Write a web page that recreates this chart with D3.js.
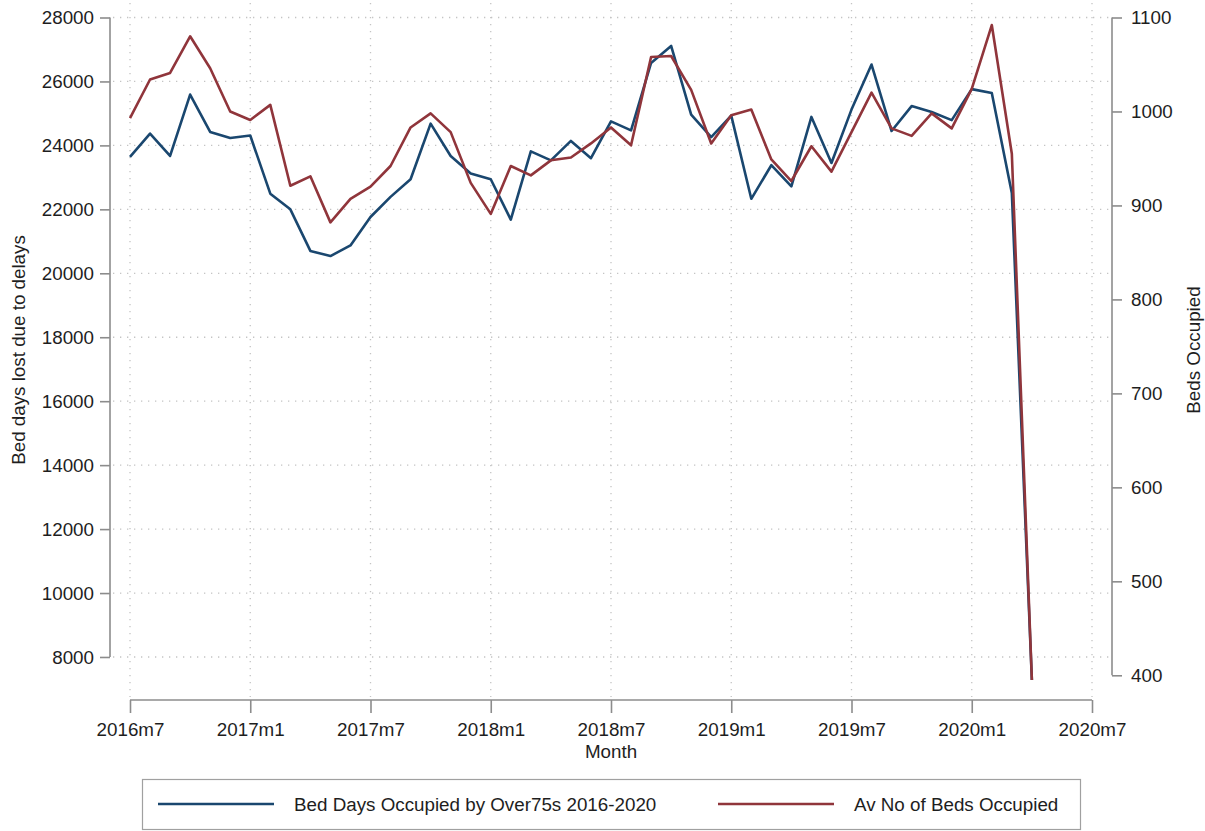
<!DOCTYPE html>
<html>
<head>
<meta charset="utf-8">
<script src="https://cdn.jsdelivr.net/npm/d3@7"></script>
<style>
  body { margin: 0; background: #fff; }
  text { font-family: "Liberation Sans", Arial, sans-serif; fill: #1e1e1e; }
</style>
</head>
<body>
<svg id="chart" width="1205" height="831"></svg>
<script>
const months = ["2016m7","2016m8","2016m9","2016m10","2016m11","2016m12",
  "2017m1","2017m2","2017m3","2017m4","2017m5","2017m6",
  "2017m7","2017m8","2017m9","2017m10","2017m11","2017m12",
  "2018m1","2018m2","2018m3","2018m4","2018m5","2018m6",
  "2018m7","2018m8","2018m9","2018m10","2018m11","2018m12",
  "2019m1","2019m2","2019m3","2019m4","2019m5","2019m6",
  "2019m7","2019m8","2019m9","2019m10","2019m11","2019m12",
  "2020m1","2020m2","2020m3","2020m4"];
const bedDays = [23640,24370,23670,25590,24420,24230,24310,22490,22000,20700,
  20540,20870,21760,22390,22940,24680,23670,23120,22940,21680,
  23815,23530,24140,23600,24750,24470,26580,27110,24960,24260,
  24930,22330,23380,22720,24890,23450,25120,26530,24450,25230,
  25045,24790,25760,25640,22510,7280];
const avgBeds = [993,1034,1041,1080,1046,1000,991,1007,921,931,
  882,907,920,942,983,998,978,924,891,942,
  932,948,951,966,983,964,1058,1059,1023,966,
  996,1002,949,926,963,936,978,1020,982,974,
  998,982,1024,1092,955,395];
const xTickLabels = ["2016m7","2017m1","2017m7","2018m1","2018m7","2019m1","2019m7","2020m1","2020m7"];
const leftTicks = [8000,10000,12000,14000,16000,18000,20000,22000,24000,26000,28000];
const rightTicks = [400,500,600,700,800,900,1000,1100];
const seriesNames = ["Bed Days Occupied by Over75s 2016-2020","Av No of Beds Occupied"];
const colors = ["#1a476f","#90353b"];

const FS = "18.8px";
const svg = d3.select("#chart");
const monthIndex = s => { const [y, m] = s.split("m").map(Number); return (y - 2016) * 12 + (m - 7); };

const x = d3.scaleLinear().domain([0, 48]).range([130, 1092]);
const yL = d3.scaleLinear().domain([7280, 28000]).range([680, 17.5]);
const yR = d3.scaleLinear().domain([395, 1100]).range([680, 17.5]);

const grid = svg.append("g");
grid.selectAll("line.h").data(leftTicks).join("line")
  .attr("x1", 113).attr("x2", 1110)
  .attr("y1", d => yL(d)).attr("y2", d => yL(d))
  .attr("stroke", "#c4c4c4").attr("stroke-width", 1.3).attr("stroke-dasharray", "1.3,5.7");
grid.selectAll("line.v").data(xTickLabels).join("line")
  .attr("x1", d => x(monthIndex(d))).attr("x2", d => x(monthIndex(d)))
  .attr("y1", 3).attr("y2", 697)
  .attr("stroke", "#c4c4c4").attr("stroke-width", 1.3).attr("stroke-dasharray", "1.3,5.7");

const axisColor = "#8c8c8c";
const gL = svg.append("g").attr("transform", "translate(110,0)")
  .call(d3.axisLeft(yL).tickValues(leftTicks).tickSize(10).tickPadding(6).tickFormat(d3.format("d")));
gL.select(".domain").remove();
gL.append("line").attr("x1", 0).attr("x2", 0).attr("y1", yL(8000)).attr("y2", yL(28000)).attr("stroke", axisColor).attr("stroke-width", 1.6);
const gR = svg.append("g").attr("transform", "translate(1112,0)")
  .call(d3.axisRight(yR).tickValues(rightTicks).tickSize(10).tickPadding(9).tickFormat(d3.format("d")));
gR.select(".domain").remove();
gR.append("line").attr("x1", 0).attr("x2", 0).attr("y1", yR(400)).attr("y2", yR(1100)).attr("stroke", axisColor).attr("stroke-width", 1.6);
const gB = svg.append("g").attr("transform", "translate(0,700)")
  .call(d3.axisBottom(x).tickValues(xTickLabels.map(monthIndex)).tickSize(13).tickPadding(10)
    .tickFormat((d, i) => xTickLabels[i]));
gB.select(".domain").remove();
gB.append("line").attr("x1", x(0)).attr("x2", x(48)).attr("y1", 0).attr("y2", 0).attr("stroke", axisColor).attr("stroke-width", 1.6);

[gL, gR, gB].forEach(g => {
  g.selectAll(".tick line").attr("stroke", axisColor).attr("stroke-width", 1.6);
  g.selectAll(".tick text").style("font-size", FS).attr("fill", "#1e1e1e");
});

svg.append("text").attr("transform", "translate(25,350) rotate(-90)").attr("text-anchor", "middle")
  .style("font-size", FS).text("Bed days lost due to delays");
svg.append("text").attr("transform", "translate(1200,350) rotate(-90)").attr("text-anchor", "middle")
  .style("font-size", FS).text("Beds Occupied");
svg.append("text").attr("x", 611).attr("y", 758).attr("text-anchor", "middle")
  .style("font-size", FS).text("Month");

const lineL = d3.line().x((d, i) => x(monthIndex(months[i]))).y(d => yL(d));
const lineR = d3.line().x((d, i) => x(monthIndex(months[i]))).y(d => yR(d));
svg.append("path").datum(bedDays).attr("d", lineL).attr("fill", "none")
  .attr("stroke", colors[0]).attr("stroke-width", 2.6).attr("stroke-linejoin", "round");
svg.append("path").datum(avgBeds).attr("d", lineR).attr("fill", "none")
  .attr("stroke", colors[1]).attr("stroke-width", 2.6).attr("stroke-linejoin", "round");

const lg = svg.append("g");
lg.append("rect").attr("x", 142.5).attr("y", 779.5).attr("width", 938).attr("height", 50)
  .attr("fill", "#fff").attr("stroke", "#a0a0a0").attr("stroke-width", 1.2);
const legendPos = [{lx: 158, tx: 294}, {lx: 718, tx: 854}];
seriesNames.forEach((name, i) => {
  lg.append("line").attr("x1", legendPos[i].lx).attr("x2", legendPos[i].lx + 116)
    .attr("y1", 804).attr("y2", 804).attr("stroke", colors[i]).attr("stroke-width", 2.6);
  lg.append("text").attr("x", legendPos[i].tx).attr("y", 811).style("font-size", FS).text(name);
});
</script>
</body>
</html>
